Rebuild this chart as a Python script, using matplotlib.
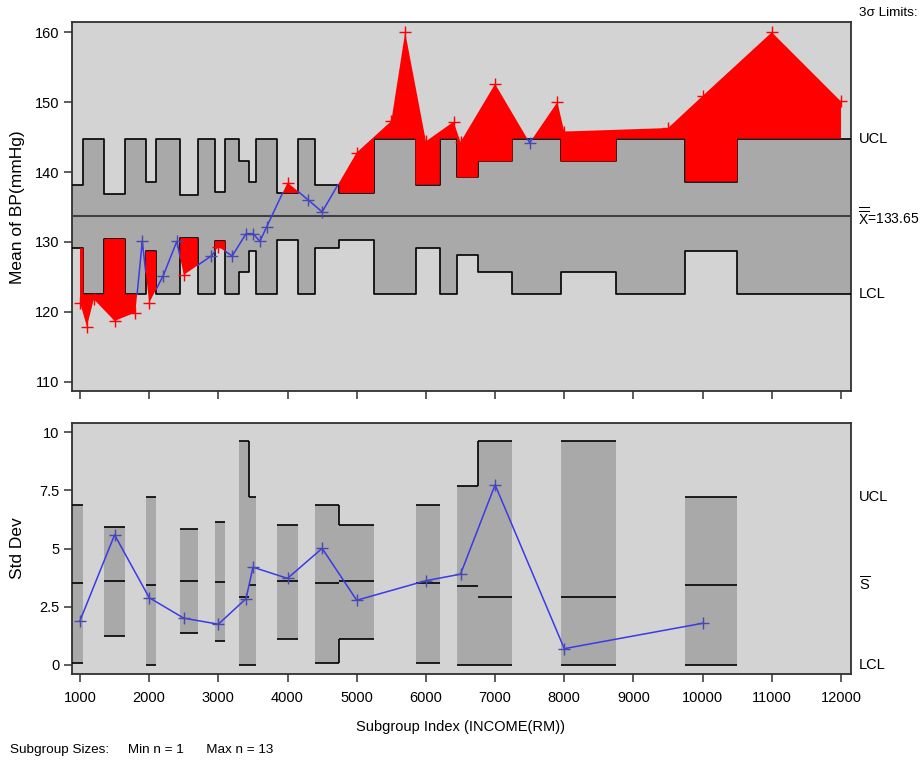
import numpy as np
import matplotlib
matplotlib.use("Agg")
import matplotlib.pyplot as plt
import matplotlib.transforms as mtransforms

plt.rcParams['font.family'] = ['Liberation Sans', 'DejaVu Sans']
plt.rcParams['mathtext.fontset'] = 'custom'
plt.rcParams['mathtext.rm'] = 'Liberation Sans'
plt.rcParams['mathtext.it'] = 'Liberation Sans'

# ---------------- data ----------------
income = [1000, 1100, 1200, 1500, 1800, 1900, 2000, 2200, 2400, 2500, 2900, 3000,
          3200, 3400, 3500, 3600, 3700, 4000, 4300, 4500, 5000, 5500, 5700, 6000,
          6400, 6500, 7000, 7500, 7900, 8000, 9500, 10000, 11000, 12000]
bp_mean = [121.3, 117.9, 121.8, 118.7, 119.9, 130.1, 121.3, 125.1, 130.1, 125.3, 128.0, 129.3,
           128.0, 131.2, 131.2, 130.1, 132.2, 138.5, 136.0, 134.3, 142.8, 147.3, 160.0, 144.4,
           147.2, 144.3, 152.6, 144.2, 150.0, 145.8, 146.3, 150.9, 160.0, 150.1]
n_size = [6, 1, 1, 12, 1, 1, 5, 1, 1, 13, 1, 10,
          1, 2, 5, 1, 1, 11, 1, 6, 11, 1, 1, 6,
          1, 4, 2, 1, 1, 2, 1, 5, 1, 1]
xbar_center = 133.65
# half width of the 3-sigma band of the mean chart, read for each subgroup size
xbar_halfwidth_by_n = {1: 11.15, 2: 7.88, 4: 5.58, 5: 4.99, 6: 4.55, 10: 3.53, 11: 3.36, 12: 3.22, 13: 3.09}

# std dev chart (subgroups with n >= 2)
s_income = [1000, 1500, 2000, 2500, 3000, 3400, 3500, 4000, 4500, 5000, 6000, 6500, 7000, 8000, 10000]
s_value = [1.90, 5.59, 2.89, 2.01, 1.75, 2.85, 4.20, 3.72, 5.01, 2.78, 3.62, 3.90, 7.74, 0.70, 1.79]
s_ucl = [6.88, 5.94, 7.21, 5.84, 6.16, 9.63, 7.21, 6.02, 6.88, 6.02, 6.88, 7.69, 9.63, 9.63, 7.21]
s_cl = [3.50, 3.60, 3.45, 3.60, 3.58, 2.94, 3.45, 3.59, 3.50, 3.59, 3.50, 3.39, 2.94, 2.94, 3.45]
s_lcl = [0.10, 1.25, 0.0, 1.36, 1.03, 0.0, 0.0, 1.13, 0.10, 1.13, 0.10, 0.0, 0.0, 0.0, 0.0]

x_ticks = [1000, 2000, 3000, 4000, 5000, 6000, 7000, 8000, 9000, 10000, 11000, 12000]
top_yticks = [110, 120, 130, 140, 150, 160]
bot_yticks = [0, 2.5, 5, 7.5, 10]
bot_ylabels = ['0', '2.5', '5', '7.5', '10']

# ---------------- styles ----------------
BG = '#d3d3d3'
BAND = '#a9a9a9'
RED = '#ff0000'
BLUE = '#3a3ae6'
MBLUE = '#4848b0'
XMIN, XMAX = 884.4, 12140.0
FS = 10.5

fig = plt.figure(figsize=(9.23, 7.61), dpi=100)
W, H = 923.0, 761.0
ax1 = fig.add_axes([72 / W, 1 - 391 / H, 778.7 / W, 369.3 / H])
ax2 = fig.add_axes([72 / W, 1 - 674 / H, 778.7 / W, 251.3 / H])

xs = np.array(income, float)
means = np.array(bp_mean, float)
hw = np.array([xbar_halfwidth_by_n[k] for k in n_size])
ucl = xbar_center + hw
lcl = xbar_center - hw

# subgroup boundaries (midpoints)
bounds = np.concatenate([[XMIN], (xs[:-1] + xs[1:]) / 2, [XMAX]])
step_x = np.repeat(bounds, 2)[1:-1]
step_u = np.repeat(ucl, 2)
step_l = np.repeat(lcl, 2)

for ax in (ax1, ax2):
    ax.set_facecolor(BG)
    ax.set_xlim(XMIN, XMAX)
    ax.set_xticks(x_ticks)
    ax.tick_params(direction='out', length=6, width=1.1, color='#303030', labelsize=FS, pad=3)
    for sp in ax.spines.values():
        sp.set_color('#303030')
        sp.set_linewidth(1.3)

# ---- top chart ----
ax1.fill_between(step_x, step_l, step_u, color=BAND, lw=0, zorder=1)
ax1.plot(step_x, step_u, color='black', lw=1.2, zorder=3)
ax1.plot(step_x, step_l, color='black', lw=1.2, zorder=3)
ax1.axhline(xbar_center, color='#404040', lw=1.5, zorder=3)

xg = np.linspace(xs[0], xs[-1], 60000)
line_g = np.interp(xg, xs, means)
idx_g = np.clip(np.searchsorted(bounds, xg, side='right') - 1, 0, len(xs) - 1)
ucl_g = ucl[idx_g]
lcl_g = lcl[idx_g]
inside = (line_g <= ucl_g) & (line_g >= lcl_g)
ax1.plot(xg, np.where(inside, line_g, np.nan), color=BLUE, lw=1.1, zorder=4)
ax1.fill_between(xg, ucl_g, line_g, where=line_g > ucl_g, interpolate=True, color=RED, lw=0, zorder=5)
ax1.fill_between(xg, lcl_g, line_g, where=line_g < lcl_g, interpolate=True, color=RED, lw=0, zorder=5)

out = (means > ucl) | (means < lcl)
ax1.plot(xs[~out], means[~out], ls='none', marker='+', ms=8, mew=1.0, color=MBLUE, zorder=6)
ax1.plot(xs[out], means[out], ls='none', marker='+', ms=8, mew=1.0, color=RED, zorder=6)

ax1.set_ylim(108.67, 161.52)
ax1.set_yticks(top_yticks)
ax1.set_yticklabels([str(v) for v in top_yticks])
ax1.tick_params(axis='x', labelbottom=False)

tr1 = mtransforms.blended_transform_factory(ax1.transAxes, ax1.transData)
ax1.text(1.0106, ucl[-1], 'UCL', transform=tr1, va='center', ha='left', fontsize=FS)
ax1.text(1.0106, lcl[-1], 'LCL', transform=tr1, va='center', ha='left', fontsize=FS)
ax1.text(1.0095, xbar_center, r'$\overline{\overline{\mathrm{X}}}$=133.65', transform=tr1,
         va='center', ha='left', fontsize=FS - 0.5)

# ---- bottom chart ----
sx = list(income)
for i, xv in enumerate(s_income):
    k = sx.index(xv)
    b0, b1 = bounds[k], bounds[k + 1]
    ax2.fill_between([b0, b1], [s_lcl[i]] * 2, [s_ucl[i]] * 2, color=BAND, lw=0, zorder=1)
    ax2.hlines([s_ucl[i], s_cl[i], s_lcl[i]], b0, b1, color='black', lw=1.2, zorder=3)
    if i + 1 < len(s_income) and sx.index(s_income[i + 1]) == k + 1:
        ax2.vlines(b1, min(s_ucl[i], s_ucl[i + 1]), max(s_ucl[i], s_ucl[i + 1]), color='black', lw=1.2, zorder=3)
        if s_lcl[i] != s_lcl[i + 1]:
            ax2.vlines(b1, min(s_lcl[i], s_lcl[i + 1]), max(s_lcl[i], s_lcl[i + 1]), color='black', lw=1.2, zorder=3)

ax2.plot(s_income, s_value, color=BLUE, lw=1.1, zorder=4)
ax2.plot(s_income, s_value, ls='none', marker='+', ms=8, mew=1.0, color=MBLUE, zorder=5)
ax2.set_ylim(-0.39, 10.41)
ax2.set_yticks(bot_yticks)
ax2.set_yticklabels(bot_ylabels)
ax2.set_xticklabels([str(v) for v in x_ticks])
ax2.tick_params(axis='x', pad=6)

tr2 = mtransforms.blended_transform_factory(ax2.transAxes, ax2.transData)
ax2.text(1.0106, s_ucl[-1], 'UCL', transform=tr2, va='center', ha='left', fontsize=FS)
ax2.text(1.0106, s_cl[-1], r'$\overline{\mathrm{S}}$', transform=tr2, va='center', ha='left', fontsize=FS)
ax2.text(1.0106, s_lcl[-1], 'LCL', transform=tr2, va='center', ha='left', fontsize=FS)

# ---- labels ----
fig.text(859 / W, 1 - 13 / H, '3σ Limits:', ha='left', va='center', fontsize=FS - 0.8)
fig.text(18 / W, 1 - 207 / H, 'Mean of BP(mmHg)', rotation=90, ha='center', va='center', fontsize=12.5)
fig.text(18 / W, 1 - 548 / H, 'Std Dev', rotation=90, ha='center', va='center', fontsize=12.5)
fig.text(461 / W, 1 - 727 / H, 'Subgroup Index (INCOME(RM))', ha='center', va='center', fontsize=FS)
fig.text(10 / W, 1 - 750 / H, 'Subgroup Sizes:     Min n = 1      Max n = 13', ha='left', va='center', fontsize=FS - 0.8)

fig.savefig('out.png', dpi=100)
